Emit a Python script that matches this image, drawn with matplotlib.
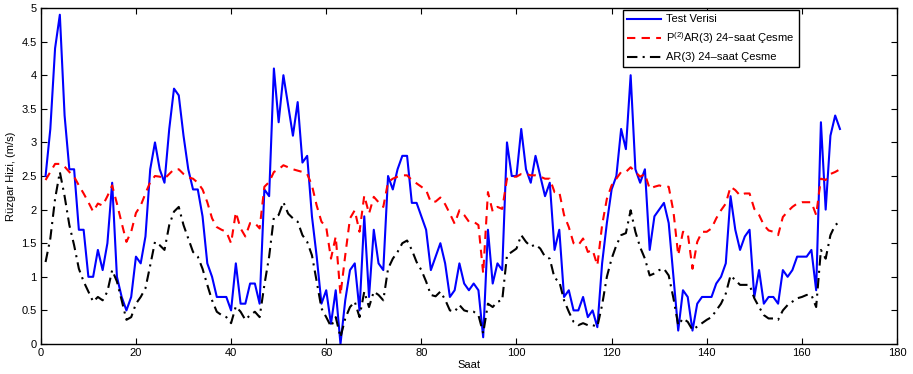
import matplotlib
matplotlib.use("Agg")
import matplotlib.pyplot as plt
import numpy as np

plt.rcParams['font.family'] = ['Liberation Sans', 'DejaVu Sans']
plt.rcParams['mathtext.default'] = 'regular'

hours = list(range(1, 169))

test_verisi = [
    2.5, 3.2, 4.4, 4.9, 3.4, 2.6, 2.6, 1.7, 1.7, 1.0,
    1.0, 1.4, 1.1, 1.5, 2.4, 1.0, 0.7, 0.5, 0.7, 1.3,
    1.2, 1.6, 2.6, 3.0, 2.6, 2.4, 3.2, 3.8, 3.7, 3.1,
    2.6, 2.3, 2.3, 1.9, 1.2, 1.0, 0.7, 0.7, 0.7, 0.5,
    1.2, 0.6, 0.6, 0.9, 0.9, 0.6, 2.3, 2.2, 4.1, 3.3,
    4.0, 3.55, 3.1, 3.6, 2.7, 2.8, 1.9, 1.3, 0.6, 0.8,
    0.3, 0.8, 0.0, 0.65, 1.1, 1.2, 0.5, 1.9, 0.7, 1.7,
    1.2, 1.1, 2.5, 2.3, 2.6, 2.8, 2.8, 2.1, 2.1, 1.9,
    1.7, 1.1, 1.3, 1.5, 1.2, 0.7, 0.8, 1.2, 0.9, 0.8,
    0.9, 0.8, 0.1, 1.7, 0.9, 1.2, 1.1, 3.0, 2.5, 2.5,
    3.2, 2.6, 2.4, 2.8, 2.5, 2.2, 2.4, 1.4, 1.7, 0.7,
    0.8, 0.5, 0.5, 0.7, 0.4, 0.5, 0.25, 1.2, 1.8, 2.3,
    2.5, 3.2, 2.9, 4.0, 2.6, 2.4, 2.6, 1.4, 1.9, 2.0,
    2.1, 1.8, 1.0, 0.2, 0.8, 0.7, 0.2, 0.6, 0.7, 0.7,
    0.7, 0.9, 1.0, 1.2, 2.2, 1.7, 1.4, 1.6, 1.7, 0.7,
    1.1, 0.6, 0.7, 0.7, 0.6, 1.1, 1.0, 1.1, 1.3, 1.3,
    1.3, 1.4, 0.8, 3.3, 2.0, 3.1, 3.4, 3.2,
]

p2ar3 = [
    2.44, 2.56, 2.68, 2.68, 2.64, 2.56, 2.49, 2.36, 2.24, 2.11,
    1.97, 2.09, 2.06, 2.2, 2.36, 2.09, 1.8, 1.52, 1.67, 1.95,
    2.06, 2.24, 2.41, 2.5, 2.49, 2.46, 2.53, 2.6, 2.6, 2.53,
    2.48, 2.46, 2.4, 2.3, 2.11, 1.87, 1.74, 1.7, 1.67, 1.5,
    1.96, 1.72, 1.6, 1.8, 1.8, 1.72, 2.34, 2.41, 2.56, 2.6,
    2.66, 2.63, 2.6, 2.58, 2.56, 2.53, 2.36, 2.06, 1.82, 1.74,
    1.27, 1.6, 0.73, 1.32, 1.87, 1.99, 1.67, 2.21, 1.94, 2.19,
    2.11, 2.04, 2.41, 2.46, 2.49, 2.51, 2.51, 2.44, 2.39, 2.34,
    2.29, 2.11, 2.12, 2.18, 2.08, 1.94, 1.79, 1.99, 1.92, 1.82,
    1.82, 1.77, 1.05, 2.26, 1.97, 2.04, 2.01, 2.46, 2.49, 2.49,
    2.53, 2.53, 2.51, 2.51, 2.49, 2.46, 2.46, 2.26, 2.26, 1.92,
    1.74, 1.5, 1.47, 1.57, 1.37, 1.4, 1.17, 1.77, 2.16, 2.36,
    2.46, 2.56, 2.56, 2.63, 2.56, 2.49, 2.53, 2.31, 2.34, 2.36,
    2.34, 2.34, 1.97, 1.32, 1.67, 1.65, 1.12, 1.52, 1.67, 1.67,
    1.72, 1.87, 1.99, 2.09, 2.34, 2.29, 2.21, 2.24, 2.24, 2.01,
    1.92, 1.77, 1.69, 1.67, 1.62, 1.89, 1.97, 2.04, 2.09, 2.11,
    2.11, 2.11, 1.92, 2.46, 2.44, 2.53, 2.56, 2.6,
]

ar3 = [
    1.22, 1.57, 2.16, 2.56, 2.2, 1.77, 1.47, 1.12, 0.93, 0.78,
    0.63, 0.7, 0.65, 0.78, 1.1, 0.93, 0.65, 0.36, 0.4, 0.6,
    0.7, 0.83, 1.17, 1.52, 1.47, 1.4, 1.77, 1.97, 2.04, 1.77,
    1.57, 1.37, 1.3, 1.12, 0.88, 0.65, 0.48, 0.43, 0.4, 0.31,
    0.56, 0.48, 0.36, 0.43, 0.48, 0.4, 0.88, 1.3, 1.89, 1.92,
    2.11, 1.94, 1.87, 1.82, 1.62, 1.52, 1.32, 0.93, 0.53, 0.4,
    0.26, 0.4, 0.1, 0.38, 0.55, 0.63, 0.4, 0.78, 0.55, 0.78,
    0.73, 0.65, 1.12, 1.27, 1.37, 1.5, 1.54, 1.4, 1.22, 1.1,
    0.93, 0.73, 0.71, 0.78, 0.66, 0.5, 0.48, 0.58, 0.5, 0.48,
    0.48, 0.43, 0.16, 0.6, 0.55, 0.63, 0.65, 1.32, 1.37, 1.42,
    1.62, 1.52, 1.45, 1.48, 1.42, 1.3, 1.27, 0.98, 0.93, 0.65,
    0.48, 0.33, 0.28, 0.31, 0.28, 0.28, 0.26, 0.58, 1.0, 1.27,
    1.47, 1.62, 1.65, 1.99, 1.67, 1.44, 1.27, 1.02, 1.05, 1.1,
    1.12, 1.02, 0.68, 0.28, 0.38, 0.33, 0.21, 0.26, 0.31, 0.36,
    0.4, 0.5, 0.6, 0.75, 1.02, 0.95, 0.88, 0.88, 0.88, 0.68,
    0.55, 0.43, 0.38, 0.38, 0.36, 0.5, 0.58, 0.63, 0.68, 0.7,
    0.73, 0.73, 0.55, 1.4, 1.27, 1.62, 1.77, 1.82,
]

labels = ['Test Verisi', 'P$^{(2)}$AR(3) 24–saat Çesme', 'AR(3) 24–saat Çesme']
xticks = [0, 20, 40, 60, 80, 100, 120, 140, 160, 180]
yticks = [0, 0.5, 1, 1.5, 2, 2.5, 3, 3.5, 4, 4.5, 5]

fig = plt.figure(figsize=(9.13, 3.74), dpi=100)
ax = fig.add_axes([0.0447, 0.0802, 0.9378, 0.8984])

ax.plot(hours, test_verisi, color='#0000ff', lw=1.5, label=labels[0])
ax.plot(hours, p2ar3, color='#ff0000', lw=1.5, ls=(0, (4, 3)), label=labels[1])
ax.plot(hours, ar3, color='black', lw=1.5, ls=(0, (5, 2.5, 1, 2.5)), label=labels[2])

ax.set_xlim(0, 180)
ax.set_ylim(0, 5)
ax.set_xticks(xticks)
ax.set_yticks(yticks)
ax.set_yticklabels(['0', '0.5', '1', '1.5', '2', '2.5', '3', '3.5', '4', '4.5', '5'])
ax.tick_params(direction='in', top=True, right=True, labelsize=8, length=4, width=0.8, pad=3)
for s in ax.spines.values():
    s.set_linewidth(1.0)
ax.set_xlabel('Saat', fontsize=8, labelpad=1)
ax.set_ylabel('Rüzgar Hizi, (m/s)', fontsize=8, labelpad=4)

leg = ax.legend(loc='upper left', bbox_to_anchor=(0.680, 0.994), fontsize=8,
                frameon=True, fancybox=False, edgecolor='black', framealpha=1,
                handlelength=3.0, handletextpad=0.45, borderaxespad=0.0,
                labelspacing=0.55, borderpad=0.4)
leg.get_frame().set_linewidth(1.0)

fig.savefig('out.png', dpi=100)
